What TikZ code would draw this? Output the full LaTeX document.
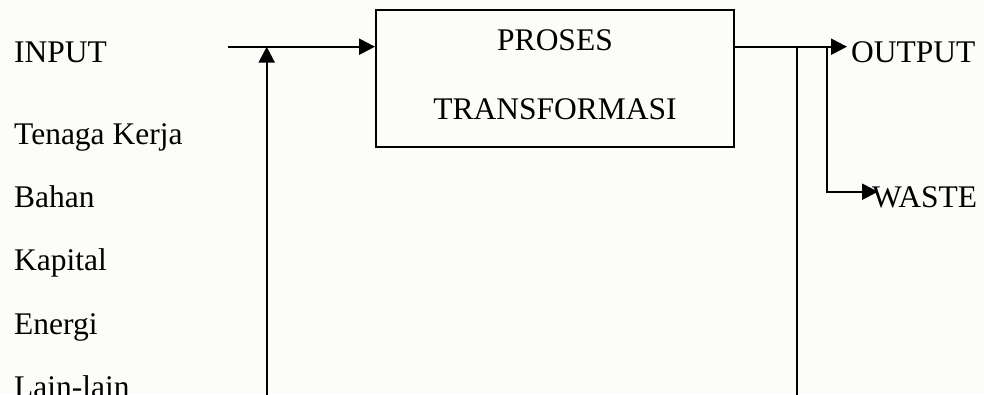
\documentclass[tikz,border=0pt]{standalone}
\usepackage{fontspec}
\setmainfont{Liberation Serif}
\usetikzlibrary{arrows.meta}
\definecolor{bgcol}{RGB}{252,253,248}
\tikzset{
  lbl/.style={anchor=base west, inner sep=0pt, font=\fontsize{31.5}{38}\selectfont},
  ctr/.style={anchor=base, inner sep=0pt, font=\fontsize{31.5}{38}\selectfont},
  ln/.style={line width=2.3pt, black},
  arr/.style={ln, -{Triangle[length=16pt 0 0,width=16pt 0 0]}},
  procbox/.style={draw, line width=2pt, minimum width=358pt, minimum height=137pt, inner sep=0pt}
}
\begin{document}
\begin{tikzpicture}[x=1pt,y=-1pt]
\useasboundingbox (0,0) rectangle (984,394);
\fill[bgcol] (0,0) rectangle (984,394);
\clip (0,0) rectangle (984,394);
% labels
\node[lbl] (input) at (14,62.5) {INPUT};
\node[lbl] (tk) at (14,144) {Tenaga Kerja};
\node[lbl] (bahan) at (14,207.5) {Bahan};
\node[lbl] (kap) at (14,270.7) {Kapital};
\node[lbl] (en) at (14,334) {Energi};
\node[lbl] (lain) at (14,397.5) {Lain-lain};
% process box
\node[procbox] (box) at (555,78.5) {};
\node[ctr] (proses) at (555,50.7) {PROSES};
\node[ctr] (trans) at (555,119) {TRANSFORMASI};
% outputs
\node[lbl] (output) at (851,62) {OUTPUT};
\node[lbl] (waste) at (872,207.3) {WASTE};
% coordinates
\coordinate (cin) at (227.7,46.7);
\coordinate (fbin) at (266.7,400);
\coordinate (split) at (797.3,46.7);
\coordinate (fbout) at (797.3,400);
\coordinate (wsplit) at (826.7,46.7);
\coordinate (wcorner) at (826.7,191.7);
\coordinate (outtip) at (847,46.7);
\coordinate (wtip) at (878,191.7);
% connectors
\draw[arr] (cin) -- (cin -| box.west);
\draw[arr] (fbin) -- (fbin |- cin);
\draw[arr] (box.east |- cin) -- (outtip);
\draw[ln] (split) -- (fbout);
\draw[arr] (wsplit) -- (wcorner) -- (wtip);
\end{tikzpicture}
\end{document}
